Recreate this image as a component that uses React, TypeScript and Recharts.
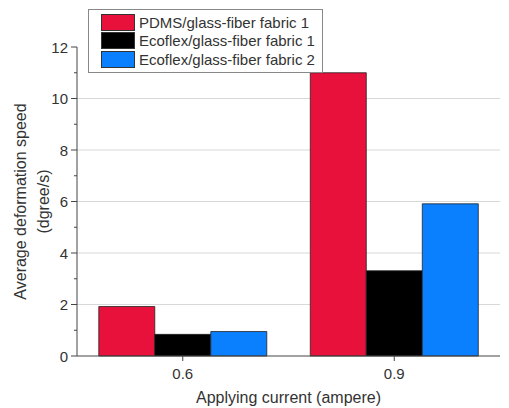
import React from 'react';
import { BarChart, Bar, XAxis, YAxis, CartesianGrid, Legend } from 'recharts';

const categories = ['0.6', '0.9'];
const pdms1 = [1.92, 11.0];
const ecoflex1 = [0.84, 3.31];
const ecoflex2 = [0.95, 5.91];
const yTicks = [0, 1, 2, 3, 4, 5, 6, 7, 8, 9, 10, 11, 12];
const gridTicks = [2, 4, 6, 8, 10];

const seriesNames = ['PDMS/glass-fiber fabric 1', 'Ecoflex/glass-fiber fabric 1', 'Ecoflex/glass-fiber fabric 2'];
const seriesKeys = ['pdms1', 'ecoflex1', 'ecoflex2'];
const seriesColors = ['#E8113B', '#000000', '#0A80FF'];

const data = categories.map((c, i) => ({
  cat: c,
  pdms1: pdms1[i],
  ecoflex1: ecoflex1[i],
  ecoflex2: ecoflex2[i],
}));

const FONT = '"Liberation Sans", Arial, sans-serif';
const TEXT = '#333';
const AXIS = '#444';

const YTick = (props: any) => {
  const { x, y, payload } = props;
  const v = payload.value;
  const axisX = x + 8;
  const major = v % 2 === 0;
  return (
    <g>
      <path d={`M${axisX - (major ? 6 : 3)},${y}H${axisX}`} stroke={AXIS} strokeWidth={1} fill="none" />
      {major && (
        <text x={x - 1} y={y} textAnchor="end" dominantBaseline="central" fontSize={15} fontFamily={FONT} fill={TEXT}>
          {v}
        </text>
      )}
    </g>
  );
};

const LegendBox = () => (
  <div
    style={{
      border: '1px solid #888',
      background: '#fff',
      width: 235,
      padding: '3px 0 3px 12px',
      boxSizing: 'border-box',
      fontFamily: FONT,
      fontSize: 15,
      color: TEXT,
    }}
  >
    {seriesNames.map((n, i) => (
      <div key={n} style={{ display: 'flex', alignItems: 'center', height: 18.5 }}>
        <div style={{ width: 34, height: 17, background: seriesColors[i], marginRight: 4, border: '0.5px solid #333', boxSizing: 'border-box' }} />
        <span style={{ whiteSpace: 'nowrap', lineHeight: '17px' }}>{n}</span>
      </div>
    ))}
  </div>
);

const XLabel = (props: any) => {
  const vb = props.viewBox;
  return (
    <text x={vb.x + vb.width / 2} y={vb.y + 41} textAnchor="middle" dominantBaseline="central" fontSize={16} fontFamily={FONT} fill={TEXT}>
      Applying current (ampere)
    </text>
  );
};

const YLabel = (props: any) => {
  const vb = props.viewBox;
  const cy = vb.y + vb.height / 2;
  return (
    <g>
      <text x={20} y={cy} transform={`rotate(-90 20 ${cy})`} textAnchor="middle" dominantBaseline="central" fontSize={16} fontFamily={FONT} fill={TEXT}>
        Average deformation speed
      </text>
      <text x={43} y={cy} transform={`rotate(-90 43 ${cy})`} textAnchor="middle" dominantBaseline="central" fontSize={16} fontFamily={FONT} fill={TEXT}>
        (dgree/s)
      </text>
    </g>
  );
};

export default function App() {
  return (
    <div style={{ position: 'absolute', left: 0, top: 0, width: 509, height: 408, background: '#fff' }}>
      <BarChart
        width={509}
        height={408}
        data={data}
        margin={{ top: 47, right: 9, bottom: 22, left: 0 }}
        barCategoryGap="10.3%"
        barGap={0}
      >
        <CartesianGrid vertical={false} horizontalValues={gridTicks} stroke="#d8d8d8" strokeWidth={1} />
        <XAxis
          dataKey="cat"
          height={30}
          tickSize={5}
          tickMargin={7}
          axisLine={{ stroke: AXIS }}
          tickLine={{ stroke: AXIS }}
          tick={{ fontSize: 15, fontFamily: FONT, fill: TEXT }}
          label={<XLabel />}
        />
        <YAxis
          width={77}
          domain={[0, 12]}
          ticks={yTicks}
          interval={0}
          tickSize={5}
          tickMargin={3}
          tickLine={false}
          axisLine={{ stroke: AXIS }}
          tick={<YTick />}
          label={<YLabel />}
        />
        <Legend
          layout="vertical"
          align="center"
          verticalAlign="middle"
          content={<LegendBox />}
          wrapperStyle={{ position: 'absolute', left: 88, top: 9, width: 235 }}
        />
        {seriesKeys.map((k, i) => (
          <Bar key={k} dataKey={k} name={seriesNames[i]} fill={seriesColors[i]} stroke="#222" strokeWidth={0.8} isAnimationActive={false} />
        ))}
      </BarChart>
    </div>
  );
}
